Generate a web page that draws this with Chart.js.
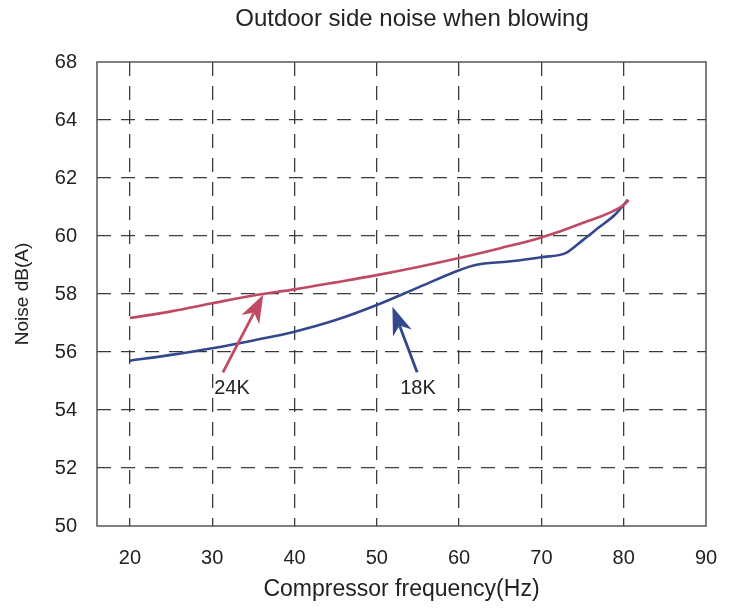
<!DOCTYPE html>
<html>
<head>
<meta charset="utf-8">
<script src="https://cdn.jsdelivr.net/npm/chart.js@4.4.1/dist/chart.umd.min.js"></script>
<style>
    html, body { margin: 0; padding: 0; background: #fff; }
    #wrap { width: 740px; height: 612px; }
</style>
</head>
<body>
<div id="wrap"><canvas id="noiseChart"></canvas></div>
<script>
// Chart data
const chartTitle = 'Outdoor side noise when blowing';
const xTicks = [20, 30, 40, 50, 60, 70, 80, 90];
const yTicks = [50, 52, 54, 56, 58, 60, 62, 64, 66];
const yTickLabels = ['50', '52', '54', '56', '58', '60', '62', '64', '68'];

const freq24k = [20, 25, 30, 35, 40, 45, 50, 55, 60, 65, 70, 75, 80, 80.6];
const noise24k = [57.17, 57.4, 57.68, 57.95, 58.16, 58.4, 58.65, 58.93, 59.24, 59.58, 59.95, 60.45, 61.07, 61.24];

const freq18k = [20, 25, 30, 35, 40, 45, 50, 55, 60, 62, 66, 70, 73, 75, 77, 79, 80.5];
const noise18k = [55.7, 55.9, 56.13, 56.4, 56.7, 57.1, 57.62, 58.22, 58.82, 59.0, 59.12, 59.27, 59.42, 59.85, 60.3, 60.75, 61.25];

// arrows: [tailX, tailY, tipX, tipY] and label position
const arrow24k = [31.3, 55.3, 36.2, 57.97];
const arrow18k = [54.9, 55.3, 51.9, 57.56];
const label24k = [32.4, 54.75];
const label18k = [55.0, 54.75];

const red = '#c04a62';
const blue = '#33488c';
const fontFamily = "'Liberation Sans', Arial, sans-serif";

// Title, frame and arrow annotations
const decorPlugin = {
    id: 'decor',
    afterDraw(chart) {
        const ctx = chart.ctx;
        const area = chart.chartArea;
        const xs = chart.scales.x;
        const ys = chart.scales.y;

        ctx.save();
        ctx.fillStyle = '#222';
        ctx.font = '24px ' + fontFamily;
        ctx.textAlign = 'center';
        ctx.textBaseline = 'middle';
        ctx.fillText(chartTitle, 412, 19);

        // plot frame
        ctx.strokeStyle = '#555';
        ctx.lineWidth = 1.5;
        ctx.strokeRect(area.left, area.top, area.right - area.left, area.bottom - area.top);

        function drawArrow(a, color) {
            const x1 = xs.getPixelForValue(a[0]), y1 = ys.getPixelForValue(a[1]);
            const x2 = xs.getPixelForValue(a[2]), y2 = ys.getPixelForValue(a[3]);
            const ang = Math.atan2(y2 - y1, x2 - x1);
            const c = Math.cos(ang), s = Math.sin(ang);
            const headLen = 28, headW = 10, notch = 8;
            const bx = x2 - headLen * c, by = y2 - headLen * s;
            ctx.strokeStyle = color;
            ctx.fillStyle = color;
            ctx.lineWidth = 2.8;
            ctx.beginPath();
            ctx.moveTo(x1, y1);
            ctx.lineTo(bx + notch * c, by + notch * s);
            ctx.stroke();
            ctx.beginPath();
            ctx.moveTo(x2, y2);
            ctx.lineTo(bx - headW * s, by + headW * c);
            ctx.lineTo(bx + notch * c, by + notch * s);
            ctx.lineTo(bx + headW * s, by - headW * c);
            ctx.closePath();
            ctx.fill();
        }
        drawArrow(arrow24k, red);
        drawArrow(arrow18k, blue);

        ctx.fillStyle = '#222';
        ctx.font = '20px ' + fontFamily;
        ctx.fillText('24K', xs.getPixelForValue(label24k[0]), ys.getPixelForValue(label24k[1]));
        ctx.fillText('18K', xs.getPixelForValue(label18k[0]), ys.getPixelForValue(label18k[1]));
        ctx.restore();
    }
};

const dashedGrid = (ctx, lo, hi) => {
    const v = ctx.tick ? ctx.tick.value : null;
    return (v === null || v <= lo || v >= hi) ? 'rgba(0,0,0,0)' : '#3a3a3a';
};

new Chart(document.getElementById('noiseChart'), {
    type: 'line',
    data: {
        datasets: [
            {
                label: '24K',
                data: freq24k.map((f, i) => ({ x: f, y: noise24k[i] })),
                borderColor: red,
                borderWidth: 2.6,
                pointRadius: 0,
                cubicInterpolationMode: 'monotone'
            },
            {
                label: '18K',
                data: freq18k.map((f, i) => ({ x: f, y: noise18k[i] })),
                borderColor: blue,
                borderWidth: 2.6,
                pointRadius: 0,
                cubicInterpolationMode: 'monotone'
            }
        ]
    },
    options: {
        responsive: true,
        maintainAspectRatio: false,
        animation: false,
        layout: { padding: { left: 0, top: 62, right: 34, bottom: 0 } },
        plugins: {
            legend: { display: false },
            tooltip: { enabled: false }
        },
        scales: {
            x: {
                type: 'linear',
                min: 16,
                max: 90,
                afterBuildTicks: (scale) => { scale.ticks = xTicks.map(v => ({ value: v })); },
                afterFit: (scale) => { scale.height = 86; },
                border: { display: false, dash: [14, 10] },
                grid: {
                    drawTicks: false,
                    color: (ctx) => dashedGrid(ctx, 16, 90),
                    lineWidth: 1.3
                },
                ticks: {
                    padding: 20,
                    color: '#222',
                    font: { family: fontFamily, size: 20 },
                    maxRotation: 0
                },
                title: {
                    display: true,
                    text: 'Compressor frequency(Hz)',
                    color: '#222',
                    font: { family: fontFamily, size: 23 },
                    padding: { top: 0, bottom: 9 }
                }
            },
            y: {
                min: 50,
                max: 66,
                afterBuildTicks: (scale) => { scale.ticks = yTicks.map(v => ({ value: v })); },
                afterFit: (scale) => { scale.width = 97; },
                border: { display: false, dash: [14, 10] },
                grid: {
                    drawTicks: false,
                    color: (ctx) => dashedGrid(ctx, 50, 66),
                    lineWidth: 1.3
                },
                ticks: {
                    padding: 20,
                    color: '#222',
                    font: { family: fontFamily, size: 20 },
                    callback: (value) => yTickLabels[yTicks.indexOf(value)]
                },
                title: {
                    display: true,
                    text: 'Noise dB(A)',
                    color: '#222',
                    font: { family: fontFamily, size: 19 },
                    padding: { top: 11, bottom: 0 }
                }
            }
        }
    },
    plugins: [decorPlugin]
});
</script>
</body>
</html>
